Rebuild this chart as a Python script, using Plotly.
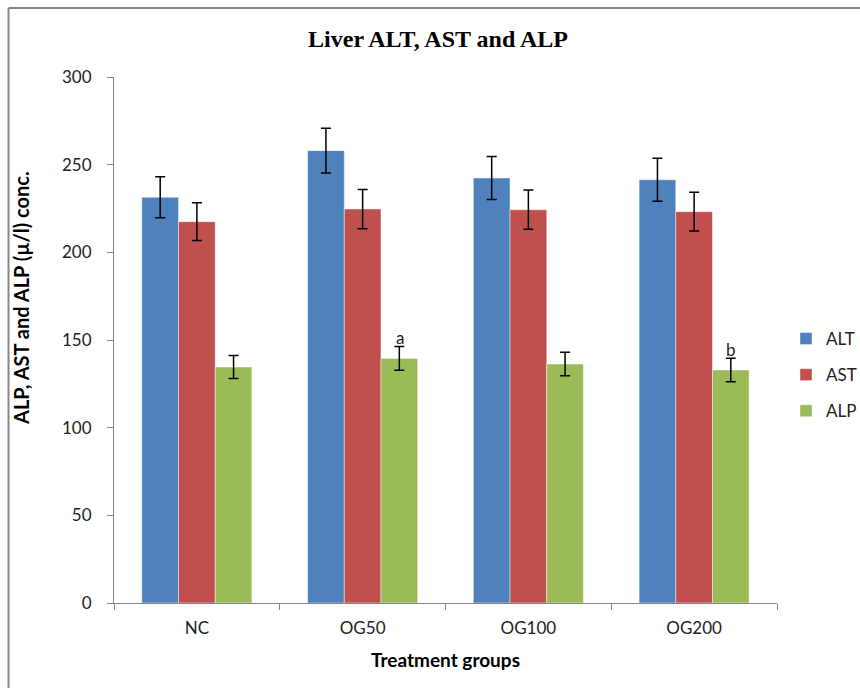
import plotly.graph_objects as go

groups = ["NC", "OG50", "OG100", "OG200"]
alt_vals = [231.4, 258.0, 242.4, 241.4]
alt_err = [11.7, 12.7, 12.2, 12.2]
ast_vals = [217.5, 224.7, 224.3, 223.2]
ast_err = [10.8, 11.2, 11.2, 11.0]
alp_vals = [134.6, 139.5, 136.3, 132.9]
alp_err = [6.6, 6.8, 6.7, 6.7]
series_names = ["ALT", "AST", "ALP"]
series_colors = ["#4F81BD", "#C0504D", "#9BBB59"]
y_ticks = [0, 50, 100, 150, 200, 250, 300]
sig_labels = ["", "a", "", "b"]

W, H = 860, 688
L, R, T, B = 114, 777, 77, 603

fig = go.Figure()
for name, vals, errs, col in zip(series_names, [alt_vals, ast_vals, alp_vals],
                                 [alt_err, ast_err, alp_err], series_colors):
    fig.add_trace(go.Bar(
        x=groups, y=vals, name=name, legendgroup=name,
        marker=dict(color=col, line=dict(color="rgba(255,255,255,0.45)", width=1)),
        error_y=dict(type="data", array=errs, visible=True, color="black",
                     thickness=1.5, width=5),
    ))

# significance letters above ALP error bars
for i, (g, lab) in enumerate(zip(groups, sig_labels)):
    if lab:
        fig.add_annotation(x=g, y=alp_vals[i] + alp_err[i], text=lab,
                           xref="x", yref="y", showarrow=False,
                           xshift=37, yshift=9,
                           font=dict(family="Lato, sans-serif", size=17, color="#222"))

pw = R - L
ph = B - T
def px(v):
    return (v - L) / pw
def py(v):
    return (B - v) / ph

fig.add_shape(type="line", xref="paper", yref="paper",
              x0=px(8.5), x1=px(880), y0=py(8), y1=py(8),
              line=dict(color="#868686", width=2))
fig.add_shape(type="line", xref="paper", yref="paper",
              x0=px(8.5), x1=px(8.5), y0=py(8), y1=py(700),
              line=dict(color="#868686", width=2))

# y-axis title as a rotated annotation (placed like the reference)
fig.add_annotation(xref="paper", yref="paper", x=px(21), y=py(298),
                   text="<b>ALP, AST and ALP (\u00b5/l) conc.</b>", textangle=-90,
                   showarrow=False, xanchor="center", yanchor="middle",
                   font=dict(family="Lato, sans-serif", size=20, color="black"))

fig.update_layout(
    width=W, height=H,
    margin=dict(l=L, r=W - R, t=T, b=H - B, autoexpand=False),
    paper_bgcolor="white", plot_bgcolor="white",
    barmode="group", bargap=0.336, bargroupgap=0,
    title=dict(text="<b>Liver ALT, AST and ALP</b>", x=px(438), xanchor="center",
               xref="paper", y=1 - 39 / H, yanchor="middle",
               font=dict(family="Liberation Serif, Times New Roman, serif", size=24, color="black")),
    legend=dict(x=px(786), y=py(321), xanchor="left", yanchor="top",
                font=dict(family="Lato, sans-serif", size=17, color="#222"),
                itemwidth=30, tracegroupgap=11, bgcolor="rgba(0,0,0,0)"),
    xaxis=dict(showline=True, linecolor="#868686", linewidth=1,
               ticks="outside", tickson="boundaries", ticklen=6, tickcolor="#868686",
               ticklabelstandoff=10,
               tickfont=dict(family="Lato, sans-serif", size=17, color="#222"),
               title=dict(text="<b>Treatment groups</b>", standoff=16,
                          font=dict(family="Lato, sans-serif", size=19, color="black")),
               showgrid=False),
    yaxis=dict(range=[0, 300], tickvals=y_ticks, showline=True, linecolor="#868686",
               linewidth=1, ticks="outside", ticklen=6, tickcolor="#868686",
               ticklabelstandoff=12,
               tickfont=dict(family="Lato, sans-serif", size=17, color="#222"),
               showgrid=False, zeroline=False),
)

fig.write_html("out.html")
